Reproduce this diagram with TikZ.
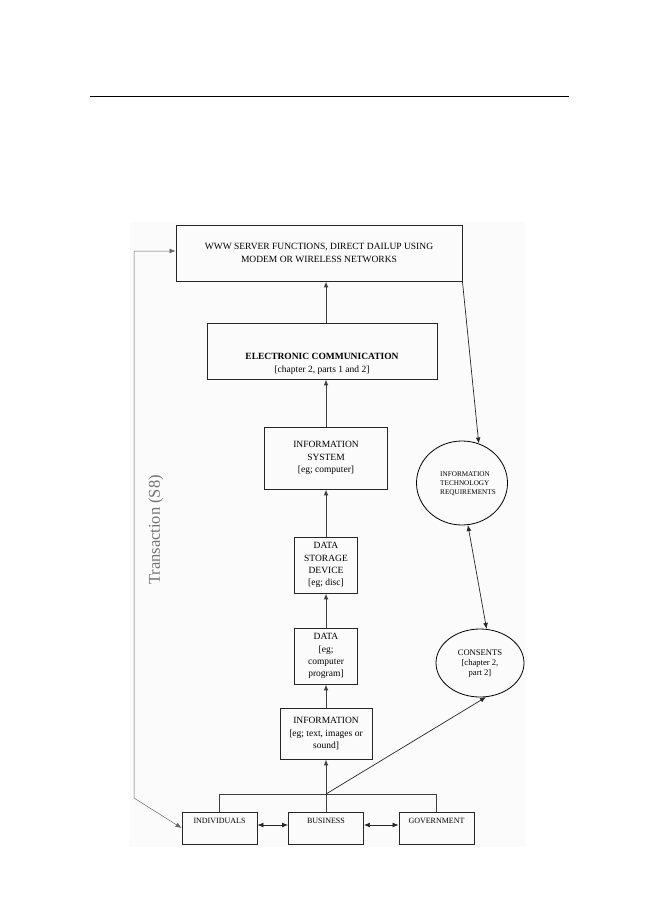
\documentclass[tikz,border=0pt]{standalone}
\usepackage{fontspec}
\setmainfont{Liberation Serif}
\usetikzlibrary{arrows.meta,shapes.geometric,calc}
\newcommand\fsz[2]{\fontsize{#1}{#2}\selectfont}
\begin{document}
\begin{tikzpicture}[x=1pt,y=-1pt,
  box/.style={draw=black!85,line width=0.9pt,inner sep=0pt,align=center,font=\fsz{9.5}{12.2}},
  sbox/.style={draw=black!85,line width=0.9pt,inner sep=0pt,minimum width=75pt,minimum height=32pt},
  ellip/.style={draw=black,line width=0.8pt,ellipse,inner sep=0pt},
  tip/.tip={Latex[length=6pt,width=4.8pt]},
  arr/.style={-tip,line width=1pt,draw=black!75},
  tarr/.style={-tip,line width=0.7pt,draw=black!85},
  dbl/.style={tip-tip,line width=0.7pt,draw=black!85},
  link/.style={line width=1pt,draw=black!75},
  boxlabel/.style={font=\fsz{8}{10}}
]
\useasboundingbox (0,0) rectangle (652,907);
\fill[black!1.5] (130,222) rectangle (525,847);
\coordinate (r1) at (90,96);
\coordinate (r2) at (569,96);
\draw[line width=1pt] (r1) -- (r2);

\node[box,minimum width=286pt,minimum height=56pt,font=\fsz{9.5}{13}] (www) at (319,253)
  {WWW SERVER FUNCTIONS, DIRECT DAILUP USING\\MODEM OR WIRELESS NETWORKS};
\node[box,minimum width=230pt,minimum height=56pt] (ec) at (322,351) {};
\node[align=center,font=\fsz{9.5}{13},inner sep=0pt] (ectext) at (322,364)
  {\textbf{ELECTRONIC COMMUNICATION}\\{}[chapter 2, parts 1 and 2]};
\node[box,minimum width=123pt,minimum height=62pt,font=\fsz{9.5}{12.5}] (is) at (326,458)
  {INFORMATION\\SYSTEM\\{}[eg; computer]};
\node[box,minimum width=63pt,minimum height=56pt] (dsd) at (326,565)
  {DATA\\STORAGE\\DEVICE\\{}[eg; disc]};
\node[box,minimum width=63pt,minimum height=56pt] (data) at (326,656)
  {DATA\\{}[eg;\\computer\\program]};
\node[box,minimum width=92pt,minimum height=51pt] (info) at (326,733.5)
  {INFORMATION\\{}[eg; text, images or\\sound]};

\node[sbox,label={[boxlabel,anchor=north,inner sep=6pt]north:INDIVIDUALS}] (ind) at (219.5,828) {};
\node[sbox,label={[boxlabel,anchor=north,inner sep=6pt]north:BUSINESS}] (bus) at (326,828) {};
\node[sbox,label={[boxlabel,anchor=north,inner sep=6pt]north:GOVERNMENT}] (gov) at (436.5,828) {};

\node[ellip,minimum width=91pt,minimum height=84pt] (it) at (462,483) {};
\node[align=left,font=\fsz{7.2}{9},inner sep=0pt] (ittext) at (468,484)
  {INFORMATION\\TECHNOLOGY\\REQUIREMENTS};
\node[ellip,minimum width=88pt,minimum height=68pt,align=center,font=\fsz{8.6}{10}] (cons) at (480,663)
  {\\[-4pt]CONSENTS\\{}[chapter 2,\\part 2]};

\node[rotate=90,font=\fsz{16.5}{18},text=black!55,inner sep=0pt] (tr) at (156,530) {Transaction (S8)};

% vertical chain
\draw[arr] (is.north |- ec.north) -- (is.north |- www.south);
\draw[arr] (is.north) -- (is.north |- ec.south);
\draw[arr] (dsd.north) -- (is.south);
\draw[arr] (data.north) -- (dsd.south);
\draw[arr] (info.north) -- (data.south);
\draw[arr] (bus.north) -- (info.south);

\coordinate (j) at (326,794);
\draw[link] (ind.north) -- (ind.north |- j) -- (gov.north |- j) -- (gov.north);
\draw[tarr] (j) -- (cons.280);

\draw[dbl] ([yshift=3pt]ind.east) -- ([yshift=3pt]bus.west);
\draw[dbl] ([yshift=3pt]bus.east) -- ([yshift=3pt]gov.west);

\draw[tarr] (www.south east) -- (it.67);
\draw[dbl] (it.278) -- (cons.79);

\coordinate (t1) at (134,798);
\coordinate (t2) at (134,251);
\draw[tip-tip,line width=0.5pt,draw=black!60]
  (www.west |- t2) -- (t2) -- (t1) -- (ind.west);
\end{tikzpicture}
\end{document}
